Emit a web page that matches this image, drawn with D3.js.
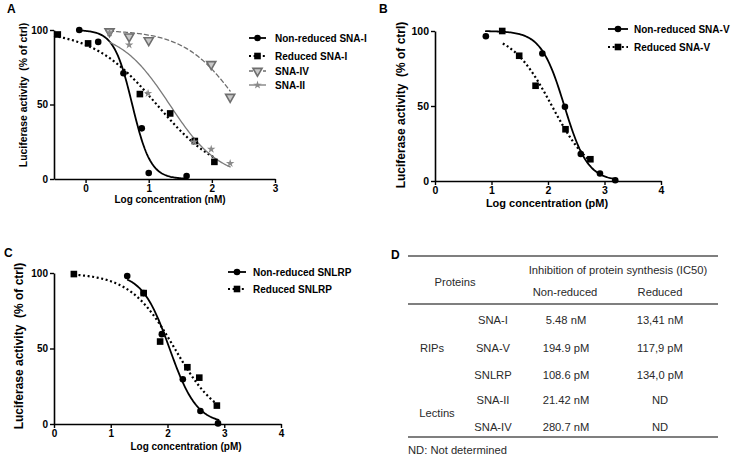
<!DOCTYPE html>
<html><head><meta charset="utf-8">
<script src="https://cdn.jsdelivr.net/npm/d3@7"></script>
<style>body{margin:0;background:#fff}svg{display:block}</style>
</head><body>
<script>
// ---------- DATA ----------
// Panel A (log nM)
const aNonRedSNAI_x = [-0.1, 0.2, 0.6, 0.89, 1.0, 1.6];
const aNonRedSNAI_y = [100, 92, 71, 34, 4, 2];
const aRedSNAI_x = [-0.44, 0.04, 0.86, 1.34, 1.73, 2.04];
const aRedSNAI_y = [97, 91, 57, 44, 25.5, 11.5];
const aSNAIV_x = [0.38, 0.69, 1.0, 1.99, 2.29];
const aSNAIV_y = [99, 95.5, 93, 77, 55];
const aSNAII_x = [0.38, 0.69, 0.99, 1.72, 1.99, 2.29];
const aSNAII_y = [98, 90, 57.5, 25, 20, 10.5];
// Panel B (log pM)
const bNonRedSNAV_x = [0.9, 1.9, 2.3, 2.58, 2.92, 3.19];
const bNonRedSNAV_y = [96.5, 85, 49.5, 18, 5, 0.5];
const bRedSNAV_x = [1.19, 1.49, 1.78, 2.31, 2.75];
const bRedSNAV_y = [100, 83.5, 63.5, 34.5, 14.5];
// Panel C (log pM)
const cNonRedSNLRP_x = [1.29, 1.58, 1.9, 2.27, 2.58, 2.89];
const cNonRedSNLRP_y = [98, 86.7, 59.5, 29.6, 8.6, 0.4];
const cRedSNLRP_x = [0.35, 1.58, 1.87, 2.35, 2.56, 2.87];
const cRedSNLRP_y = [99.3, 86.7, 54.6, 37.6, 30.7, 12.2];
// Fitted curves: [logIC50, hill, xStart, xEnd]
const fitANonRed = [0.739, 3.0, -0.1, 1.6];
const fitARed = [1.127, 0.85, -0.5, 2.04];
const fitASNAIV = [2.448, 1.0, 0.38, 2.29];
const fitASNAII = [1.331, 1.1, 0.38, 2.29];
const fitBNonRed = [2.29, 2.1, 0.9, 3.2];
const fitBRed = [2.07, 1.2, 1.2, 2.75];
const fitCNonRed = [2.036, 1.8, 1.3, 2.9];
const fitCRed = [2.127, 1.1, 0.35, 2.9];
// Ticks
const yTicks = [0, 50, 100];
const aXTicks = [0, 1, 2, 3];
const bcXTicks = [0, 1, 2, 3, 4];
// Legends
const legendA = ["Non-reduced SNA-I", "Reduced SNA-I", "SNA-IV", "SNA-II"];
const legendB = ["Non-reduced SNA-V", "Reduced SNA-V"];
const legendC = ["Non-reduced SNLRP", "Reduced SNLRP"];
// Table D
const tableHeader = ["Proteins", "Inhibition of protein synthesis (IC50)", "Non-reduced", "Reduced"];
const tableGroups = ["RIPs", "Lectins"];
const tableProteins = ["SNA-I", "SNA-V", "SNLRP", "SNA-II", "SNA-IV"];
const tableNonReduced = ["5.48 nM", "194.9 pM", "108.6 pM", "21.42 nM", "280.7 nM"];
const tableReduced = ["13,41 nM", "117,9 pM", "134,0 pM", "ND", "ND"];
const tableNote = "ND: Not determined";

// ---------- DRAW ----------
const FONT = "'Liberation Sans', Arial, Helvetica, sans-serif";
const svg = d3.select("body").append("svg").attr("width", 731).attr("height", 460)
  .style("font-family", FONT);

const styles = {
  nonred: {stroke: "#000", width: 1.8, dash: null, marker: "circle", color: "#000"},
  red: {stroke: "#000", width: 2.2, dash: "2,2.6", marker: "square", color: "#000"},
  iv: {stroke: "#6e6e6e", width: 1.3, dash: "4,3", marker: "tri", color: "#6e6e6e"},
  ii: {stroke: "#7a7a7a", width: 1.3, dash: null, marker: "star", color: "#7a7a7a"}
};

function marker(g, type, x, y) {
  if (type === "circle") g.append("circle").attr("cx", x).attr("cy", y).attr("r", 3.3).attr("fill", "#000");
  else if (type === "square") g.append("rect").attr("x", x - 3.3).attr("y", y - 3.3).attr("width", 6.6).attr("height", 6.6).attr("fill", "#000");
  else if (type === "tri") g.append("path").attr("d", d3.symbol(d3.symbolTriangle, 36)()).attr("transform", `translate(${x},${y}) rotate(180)`)
      .attr("fill", "#c8c8c8").attr("stroke", "#6e6e6e").attr("stroke-width", 1.6);
  else if (type === "star") g.append("path").attr("d", d3.symbol(d3.symbolStar, 22)()).attr("transform", `translate(${x},${y})`)
      .attr("fill", "#8a8a8a");
}

function panel(cfg) {
  const x = d3.scaleLinear().domain(cfg.xDomain).range(cfg.xRange);
  const y = d3.scaleLinear().domain([0, 100]).range(cfg.yRange);
  const g = svg.append("g");
  // curves
  cfg.series.forEach(s => {
    const [ic, h, x0, x1] = s.fit;
    const pts = d3.range(0, 101).map(i => {
      const xv = x0 + (x1 - x0) * i / 100;
      return [xv, 100 / (1 + Math.pow(10, (xv - ic) * h))];
    });
    const st = styles[s.style];
    g.append("path").attr("d", d3.line().x(d => x(d[0])).y(d => y(d[1]))(pts))
      .attr("fill", "none").attr("stroke", st.stroke).attr("stroke-width", st.width)
      .attr("stroke-dasharray", st.dash).attr("stroke-linecap", s.style === "red" ? "butt" : "round");
  });
  // markers
  cfg.series.forEach(s => {
    s.xs.forEach((xv, i) => marker(g, styles[s.style].marker, x(xv), y(s.ys[i])));
  });
  // axes
  const ax = g.append("g").attr("transform", `translate(0,${cfg.yRange[0]})`)
    .call(d3.axisBottom(x).tickValues(cfg.xTicks).tickSize(4).tickSizeOuter(0).tickPadding(1.5).tickFormat(d3.format("d")));
  const ay = g.append("g").attr("transform", `translate(${cfg.xRange[0]},0)`)
    .call(d3.axisLeft(y).tickValues(yTicks).tickSize(4).tickSizeOuter(0).tickPadding(2));
  [ax, ay].forEach(a => {
    a.select(".domain").attr("stroke", "#000").attr("stroke-width", 1.6);
    a.selectAll(".tick line").attr("stroke", "#000").attr("stroke-width", 1.4);
    a.selectAll("text").attr("fill", "#000").style("font-family", FONT).style("font-weight", "bold").style("font-size", cfg.tickFs + "px");
  });
  // titles
  g.append("text").attr("x", cfg.xt[0]).attr("y", cfg.xt[1]).attr("text-anchor", "middle")
    .style("font-weight", "bold").style("font-size", cfg.xtFs + "px").text(cfg.xTitle);
  g.append("text").attr("transform", `translate(${cfg.yt[0]},${cfg.yt[1]}) rotate(-90)`).attr("text-anchor", "middle")
    .attr("dy", "0.35em").style("font-weight", "bold").style("font-size", cfg.ytFs + "px").style("white-space", "pre")
    .text("Luciferase activity  (% of ctrl)");
  g.append("text").attr("x", cfg.lab[0]).attr("y", cfg.lab[1]).style("font-weight", "bold").style("font-size", "12px").text(cfg.label);
  // legend
  cfg.series.forEach((s, i) => {
    const st = styles[s.style];
    const ly = cfg.legY[i];
    const lg = g.append("g");
    lg.append("line").attr("x1", cfg.legX[0]).attr("x2", cfg.legX[1]).attr("y1", ly).attr("y2", ly)
      .attr("stroke", st.stroke).attr("stroke-width", st.width).attr("stroke-dasharray", st.dash);
    marker(lg, st.marker, (cfg.legX[0] + cfg.legX[1]) / 2, ly);
    lg.append("text").attr("x", cfg.legX[2]).attr("y", ly).attr("dy", "0.35em")
      .style("font-weight", "bold").style("font-size", cfg.legFs + "px").text(cfg.legend[i]);
  });
}

panel({
  xDomain: [-0.5, 3], xRange: [54, 275], yRange: [179, 30], xTicks: aXTicks, tickFs: 10,
  series: [
    {xs: aNonRedSNAI_x, ys: aNonRedSNAI_y, fit: fitANonRed, style: "nonred"},
    {xs: aRedSNAI_x, ys: aRedSNAI_y, fit: fitARed, style: "red"},
    {xs: aSNAIV_x, ys: aSNAIV_y, fit: fitASNAIV, style: "iv"},
    {xs: aSNAII_x, ys: aSNAII_y, fit: fitASNAII, style: "ii"}
  ],
  legend: legendA, legX: [249, 266, 275], legY: [38, 56, 71, 85], legFs: 10,
  xTitle: "Log concentration (nM)", xt: [170, 203], xtFs: 10,
  yt: [23, 95], ytFs: 10.4, lab: [7, 13], label: "A"
});
panel({
  xDomain: [0, 4], xRange: [435, 661], yRange: [181, 31], xTicks: bcXTicks, tickFs: 10.5,
  series: [
    {xs: bNonRedSNAV_x, ys: bNonRedSNAV_y, fit: fitBNonRed, style: "nonred"},
    {xs: bRedSNAV_x, ys: bRedSNAV_y, fit: fitBRed, style: "red"}
  ],
  legend: legendB, legX: [608, 628, 634], legY: [29, 47], legFs: 10,
  xTitle: "Log concentration (pM)", xt: [547, 207], xtFs: 11,
  yt: [401, 105], ytFs: 12, lab: [379, 13], label: "B"
});
panel({
  xDomain: [0, 4], xRange: [54, 281], yRange: [424, 273], xTicks: bcXTicks, tickFs: 10,
  series: [
    {xs: cNonRedSNLRP_x, ys: cNonRedSNLRP_y, fit: fitCNonRed, style: "nonred"},
    {xs: cRedSNLRP_x, ys: cRedSNLRP_y, fit: fitCRed, style: "red"}
  ],
  legend: legendC, legX: [228, 246, 253], legY: [272, 289], legFs: 10,
  xTitle: "Log concentration (pM)", xt: [186, 450], xtFs: 10,
  yt: [19, 346], ytFs: 12, lab: [4, 257], label: "C"
});

// ---------- TABLE D ----------
const t = svg.append("g").style("font-size", "11.2px").attr("fill", "#2a2a2a");
svg.append("text").attr("x", 391).attr("y", 259).style("font-weight", "bold").style("font-size", "12px").text("D");
const rule = yy => t.append("line").attr("x1", 408).attr("x2", 718).attr("y1", yy).attr("y2", yy).attr("stroke", "#555").attr("stroke-width", 1.4);
rule(256); rule(304); rule(437);
const txt = (xx, yy, s) => t.append("text").attr("x", xx).attr("y", yy).attr("dy", "0.35em").attr("text-anchor", "middle").text(s);
txt(455, 282, tableHeader[0]);
txt(618, 270, tableHeader[1]);
txt(565, 292, tableHeader[2]);
txt(660, 292, tableHeader[3]);
const rowY = [320, 348, 375.5, 400.5, 427];
tableProteins.forEach((p, i) => {
  txt(493, rowY[i], p);
  txt(566, rowY[i], tableNonReduced[i]);
  txt(660, rowY[i], tableReduced[i]);
});
txt(432, 348, tableGroups[0]);
txt(437, 413.5, tableGroups[1]);
t.append("text").attr("x", 408).attr("y", 450).attr("dy", "0.35em").text(tableNote);
</script>
</body></html>
